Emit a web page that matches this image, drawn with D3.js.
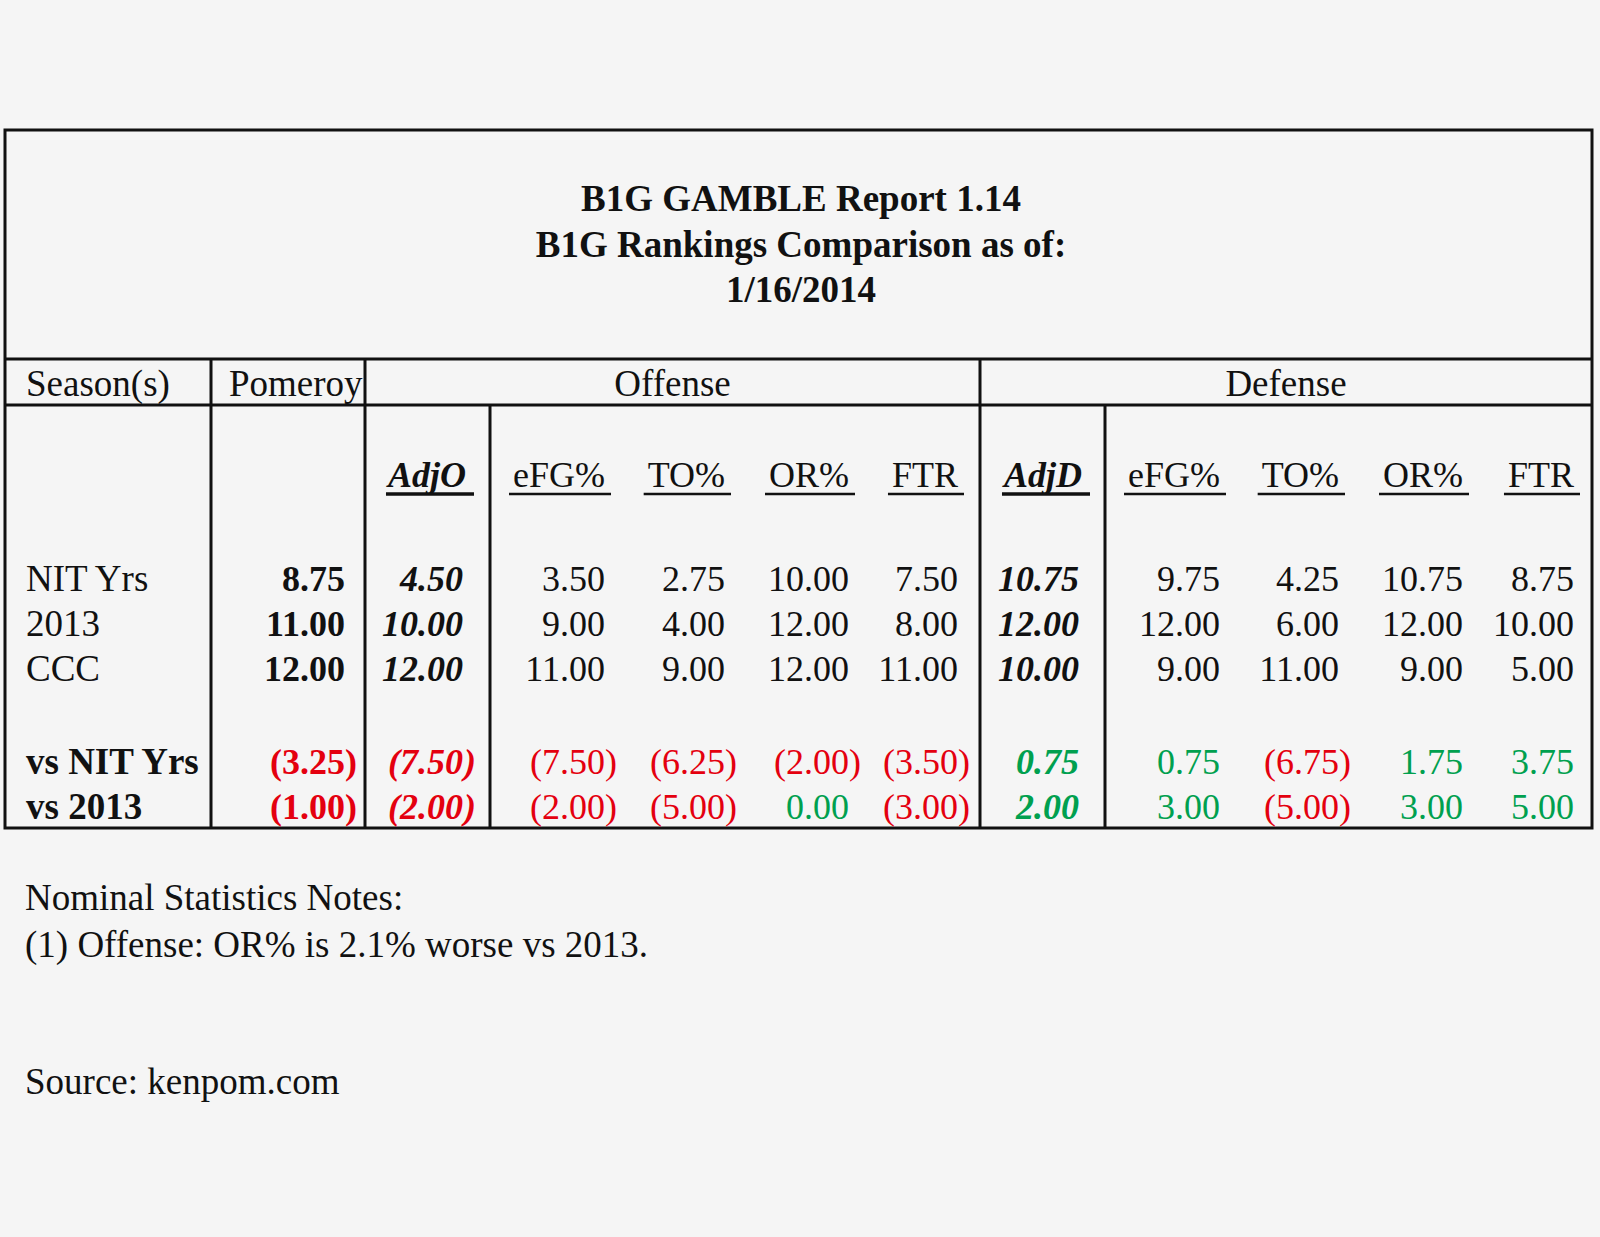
<!DOCTYPE html>
<html>
<head>
  <meta charset="utf-8">
  <title>B1G GAMBLE Report 1.14</title>
  <script src="https://cdn.jsdelivr.net/npm/d3@7"></script>
  <style>
  html, body { margin: 0; padding: 0; background: #f5f5f5; }
  svg { display: block; }
  text { font-family: "Liberation Serif", "Times New Roman", serif; fill: #111; }
  .title { font-size: 37px; font-weight: bold; text-anchor: middle; }
  .cell { font-size: 36px; }
  .label { font-size: 37px; }
  .grid { stroke: #111; stroke-width: 3; fill: none; }
  </style>
</head>
<body>
<script>
// chart data
var titleLines = ['B1G GAMBLE Report 1.14', 'B1G Rankings Comparison as of:', '1/16/2014'];
var colKeys = ['pom', 'adjO', 'oEFG', 'oTO', 'oOR', 'oFTR', 'adjD', 'dEFG', 'dTO', 'dOR', 'dFTR'];
var colHeaders = ['', 'AdjO', 'eFG%', 'TO%', 'OR%', 'FTR', 'AdjD', 'eFG%', 'TO%', 'OR%', 'FTR'];
var rowLabels = ['NIT Yrs', '2013', 'CCC'];
var nitYrs = [8.75, 4.50, 3.50, 2.75, 10.00, 7.50, 10.75, 9.75, 4.25, 10.75, 8.75];
var yr2013 = [11.00, 10.00, 9.00, 4.00, 12.00, 8.00, 12.00, 12.00, 6.00, 12.00, 10.00];
var ccc = [12.00, 12.00, 11.00, 9.00, 12.00, 11.00, 10.00, 9.00, 11.00, 9.00, 5.00];
var diffLabels = ['vs NIT Yrs', 'vs 2013'];
var vsNit = [-3.25, -7.50, -7.50, -6.25, -2.00, -3.50, 0.75, 0.75, -6.75, 1.75, 3.75];
var vs2013 = [-1.00, -2.00, -2.00, -5.00, 0.00, -3.00, 2.00, 3.00, -5.00, 3.00, 5.00];
var notes = ['Nominal Statistics Notes:', '(1) Offense: OR% is 2.1% worse vs 2013.'];
var source = 'Source: kenpom.com';

var width = 1600, height = 1237;
var red = '#e4000f', green = '#00a04f';

var svg = d3.select('body').append('svg')
  .attr('width', width)
  .attr('height', height);

svg.append('rect').attr('width', width).attr('height', height).attr('fill', '#f5f5f5');

// table frame
var L = 5, R = 1592, T = 130, B = 828;
var hdr1 = 359, hdr2 = 405;

// right edge of every numeric column
var xCol = d3.scaleOrdinal()
  .domain(colKeys)
  .range([345, 463, 605, 725, 849, 958, 1079, 1220, 1339, 1463, 1574]);

// baselines of the body rows
var yRow = d3.scaleOrdinal()
  .domain(rowLabels.concat(diffLabels))
  .range([591, 636, 681, 774, 819]);

function colStyle(k) {
  if (k == 'pom') return {weight: 'bold', style: 'normal'};
  if (k == 'adjO' || k == 'adjD') return {weight: 'bold', style: 'italic'};
  return {weight: 'normal', style: 'normal'};
}

// title
svg.selectAll('.title')
  .data(titleLines)
  .enter().append('text')
  .attr('class', 'title')
  .attr('x', 801)
  .attr('y', function(d, i) { return 211 + i * 45.5; })
  .text(function(d) { return d; });

// grid lines
var g = svg.append('g').attr('class', 'grid');
g.append('rect').attr('x', L).attr('y', T).attr('width', R - L).attr('height', B - T);
g.append('line').attr('x1', L).attr('x2', R).attr('y1', hdr1).attr('y2', hdr1);
g.append('line').attr('x1', L).attr('x2', R).attr('y1', hdr2).attr('y2', hdr2);
[[211, hdr1], [365, hdr1], [490, hdr2], [980, hdr1], [1105, hdr2]].forEach(function(v) {
  g.append('line').attr('x1', v[0]).attr('x2', v[0]).attr('y1', v[1]).attr('y2', B);
});

// header row 1
svg.append('text').attr('class', 'label').attr('x', 26).attr('y', 396).text('Season(s)');
svg.append('text').attr('class', 'label').attr('x', 229).attr('y', 396).text('Pomeroy');
svg.append('text').attr('class', 'label').attr('x', (365 + 980) / 2).attr('y', 396)
  .style('text-anchor', 'middle').text('Offense');
svg.append('text').attr('class', 'label').attr('x', (980 + R) / 2).attr('y', 396)
  .style('text-anchor', 'middle').text('Defense');

// header row 2 (underlined, right aligned on the number column)
colKeys.forEach(function(k, i) {
  if (!colHeaders[i]) return;
  var st = colStyle(k);
  var t = svg.append('text')
    .attr('class', 'cell')
    .attr('x', xCol(k) + (st.style == 'italic' ? 3 : 0))
    .attr('y', 487)
    .style('text-anchor', 'end')
    .style('font-weight', st.weight)
    .style('font-style', st.style)
    .text(colHeaders[i]);
  var bb = t.node().getBBox();
  var bold = st.weight == 'bold';
  svg.append('line')
    .attr('x1', bb.x - (bold ? 0 : 4))
    .attr('x2', bb.x + bb.width + (bold ? 8 : 6))
    .attr('y1', 494).attr('y2', 494)
    .attr('stroke', '#111')
    .attr('stroke-width', bold ? 3.5 : 2.5);
});

function fmt(v) { return Math.abs(v).toFixed(2); }

function drawRow(label, values, isDiff) {
  var y = yRow(label);
  svg.append('text')
    .attr('class', 'label')
    .attr('x', 26).attr('y', y)
    .style('font-weight', isDiff ? 'bold' : 'normal')
    .text(label);
  colKeys.forEach(function(k, i) {
    var v = values[i];
    var st = colStyle(k);
    var fill = isDiff ? (v < 0 ? red : green) : '#111';
    svg.append('text')
      .attr('class', 'cell')
      .attr('x', xCol(k)).attr('y', y)
      .style('text-anchor', 'end')
      .style('font-weight', st.weight)
      .style('font-style', st.style)
      .style('fill', fill)
      .text((v < 0 ? '(' : '') + fmt(v));
    // accounting style: closing paren hangs past the column edge
    if (v < 0) {
      svg.append('text')
        .attr('class', 'cell')
        .attr('x', xCol(k) + (st.style == 'italic' ? 1 : 0)).attr('y', y)
        .style('font-weight', st.weight)
        .style('font-style', st.style)
        .style('fill', fill)
        .text(')');
    }
  });
}

drawRow(rowLabels[0], nitYrs, false);
drawRow(rowLabels[1], yr2013, false);
drawRow(rowLabels[2], ccc, false);
drawRow(diffLabels[0], vsNit, true);
drawRow(diffLabels[1], vs2013, true);

// notes
svg.selectAll('.note')
  .data(notes)
  .enter().append('text')
  .attr('class', 'label note')
  .attr('x', 25)
  .attr('y', function(d, i) { return 910 + i * 47; })
  .text(function(d) { return d; });

svg.append('text').attr('class', 'label').attr('x', 25).attr('y', 1094).text(source);
</script>
</body>
</html>
